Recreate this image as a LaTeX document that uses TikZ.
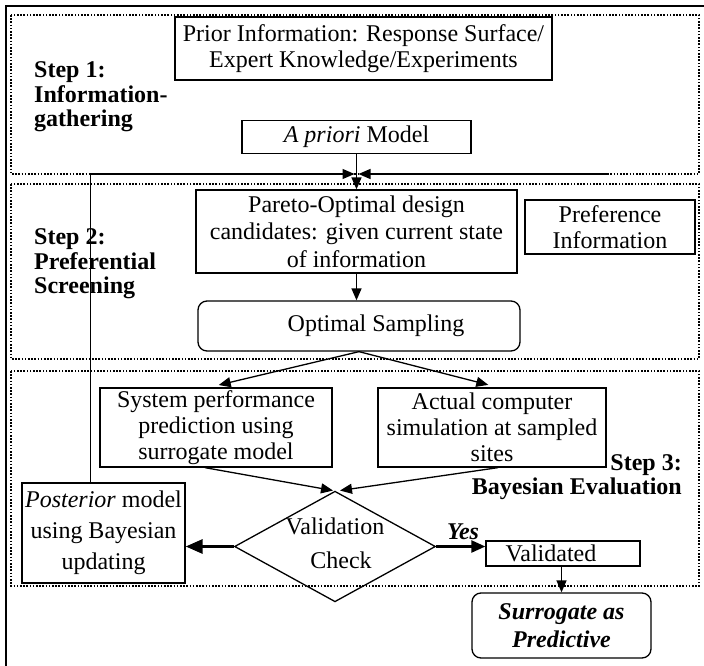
\documentclass[tikz,border=0pt]{standalone}
\usepackage{fontspec}
\setmainfont{Liberation Serif}
\usetikzlibrary{arrows,arrows.meta,shapes.geometric,positioning}

\tikzset{
  box/.style={draw, line width=1.3pt, align=center, inner sep=0pt},
  rbox/.style={box, rounded corners=9pt},
  zone/.style={line width=1.6pt, dash pattern=on 1.6pt off 1.6pt},
  steplabel/.style={font=\fontsize{24}{24.5}\selectfont\bfseries, inner sep=0pt},
  link/.style={->, line width=1.3pt},
  fatlink/.style={-{Triangle[length=17pt,width=14pt]}, line width=3pt},
}

\begin{document}
\begin{tikzpicture}[x=1pt,y=-1pt,>={Triangle[length=12pt,width=10pt]},font=\fontsize{24}{26}\selectfont]

\useasboundingbox (0,0) rectangle (704,666);

% frame and the three steps
\draw[line width=2pt] (6,666) -- (6,6) -- (704,6);
\draw[zone] (11,15) rectangle (699,174);
\draw[zone] (11,184) rectangle (699,359);
\draw[zone] (11,371) rectangle (699,586);

\node[steplabel, align=left, anchor=west] (step1) at (34,97) {Step 1:\\Information-\\gathering};
\node[steplabel, align=left, anchor=west] (step2) at (34,264) {Step 2:\\Preferential\\Screening};
\node[steplabel, align=right, anchor=east] (step3) at (682,477) {Step 3:\\Bayesian Evaluation};

% boxes
\node[box, minimum width=377pt, minimum height=63pt] (prior) at (363.5,48.5) {Prior Information: Response Surface/\\Expert Knowledge/Experiments};
\node[box, minimum width=229pt, minimum height=33pt] (apriori) at (356.5,137) {\textit{A priori} Model};
\node[box, minimum width=321pt, minimum height=83pt, font=\fontsize{24}{27.5}\selectfont] (pareto) at (356.5,231.5) {Pareto-Optimal design\\candidates: given current state\\of information};
\node[box, minimum width=170pt, minimum height=54pt] (pref) at (610,227) {Preference\\Information};
\node[rbox, minimum width=322pt, minimum height=50pt] (optsamp) at (359,326) {\hspace{34pt}Optimal Sampling};

\node[box, minimum width=232pt, minimum height=79pt] (sysperf) at (216,427.5) {System performance\\prediction using\\surrogate model};
\node[box, minimum width=228pt, minimum height=79pt] (actual) at (492,427.5) {Actual computer\\simulation at sampled\\sites};
\node[draw, diamond, line width=1.3pt, inner sep=0pt, minimum width=201pt, minimum height=73pt] (check) at (335,546.5)
  {\raisebox{-12pt}{\smash{\begin{tabular}{@{}c@{}}Validation\\[8pt]\hspace{12pt}Check\end{tabular}}}};
\node[box, minimum width=163pt, minimum height=100pt, font=\fontsize{24}{31}\selectfont] (post) at (103.5,533) {\textit{Posterior} model\\using Bayesian\\updating};
\node[box, minimum width=154pt, minimum height=25pt] (validated) at (563,553.5) {Validated\hspace{24pt}};
\node[rbox, minimum width=179pt, minimum height=65pt, font=\fontsize{24}{28}\selectfont\bfseries\itshape] (surr) at (561.5,625.5) {Surrogate as\\Predictive};
\node[font=\fontsize{24}{26}\selectfont\bfseries\itshape, inner sep=0pt] (yes) at (463,532) {Yes};

\coordinate (meet) at (apriori.south |- 0,174);
\coordinate (prefin) at (608,174);

% connectors
\path[link] (apriori.south) edge (apriori.south |- pareto.north)
  (pareto.south) edge (pareto.south |- optsamp.north)
  (optsamp.south) edge[shorten >=10pt] ([xshift=-7pt]sysperf.north)
  (optsamp.south) edge[shorten >=10pt] ([xshift=6pt]actual.north)
  ([xshift=-11pt]sysperf.south) edge ([xshift=-2pt]check.north)
  ([xshift=6pt]actual.south) edge ([xshift=5pt]check.north)
  (validated.south -| surr.north) edge (surr.north);

\draw[link] ([xshift=-13pt]post.north) |- ([xshift=-2pt]meet);
\draw[link] (prefin) -- ([xshift=2pt]meet);

\draw[fatlink] (check.west) -- (check.west -| post.east);
\draw[-{Triangle[length=14pt,width=12pt]}, line width=2.4pt] (check.east) -- (check.east -| validated.west);

\end{tikzpicture}
\end{document}
